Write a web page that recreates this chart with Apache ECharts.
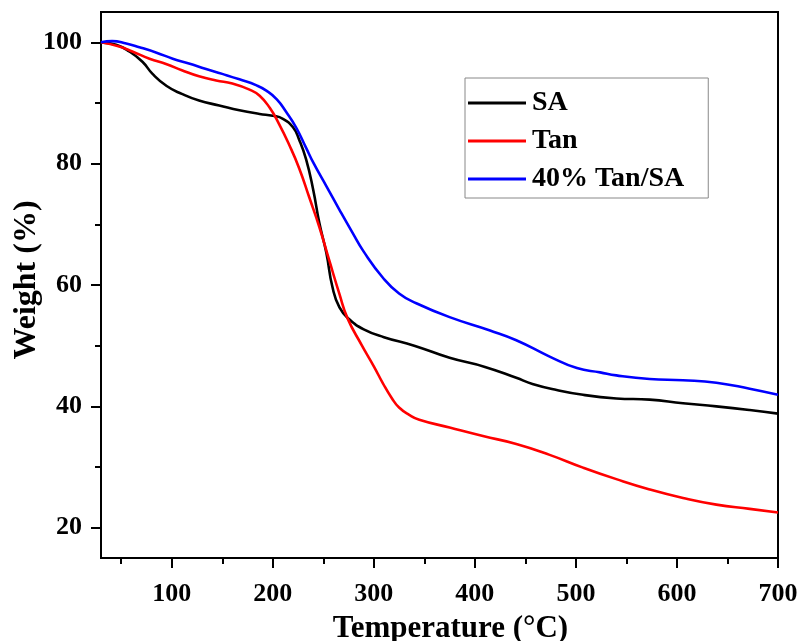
<!DOCTYPE html>
<html>
<head>
<meta charset="utf-8">
<script src="https://cdn.jsdelivr.net/npm/echarts@6/dist/echarts.min.js"></script>
<style>html,body{margin:0;padding:0;background:#fff;}#c{width:800px;height:641px;}</style>
</head>
<body>
<div id="c"></div>
<script>
var saTemp = [30,45,58,71,81,95,110,127,147,167,187,200,210,220,226,233,240,246,253,259,266,276,290,310,340,375,410,441,457,481,507,540,573,606,639,672,700];
var saWeight = [100,99.6,98.5,96.8,94.8,92.8,91.5,90.4,89.6,88.8,88.2,87.9,87.4,86,84,80.7,75.7,70.3,65.3,59.7,56.3,54.3,52.7,51.4,50,48,46.5,44.7,43.7,42.7,41.9,41.3,41.1,40.5,40,39.4,38.8];

var tanTemp = [30,48,61,78,95,110,127,144,160,177,187,197,206,216,226,236,246,256,266,274,288,300,309,318,325,335,345,375,408,441,474,507,540,573,606,639,672,700];
var tanWeight = [100,99.3,98.5,97.3,96.4,95.4,94.4,93.7,93.2,92.2,91.2,89.2,86.6,83.2,79.3,74.5,69.6,64,58.5,54.5,50.1,46.6,43.8,41.3,39.8,38.6,37.8,36.5,35.1,33.8,32,29.9,28,26.3,24.9,23.8,23.1,22.5];

var mixTemp = [30,41,55,68,85,101,117,134,150,167,184,194,204,213,223,233,240,253,266,279,290,309,325,342,375,415,441,474,501,524,540,573,606,639,672,700];
var mixWeight = [100,100.2,99.8,99.2,98.3,97.3,96.5,95.6,94.8,93.9,92.9,92,90.6,88.6,86,82.6,80.2,76.3,72.4,68.6,65.5,61.2,58.6,57,54.7,52.5,50.9,48.2,46.3,45.6,45.1,44.5,44.3,43.9,42.9,41.9];

var seriesNames = ['SA','Tan','40% Tan/SA'];
var seriesColors = ['#000000','#ff0000','#0000ff'];
var xMajor = [100,200,300,400,500,600,700];
var xMinor = [50,150,250,350,450,550,650];
var yMajor = [20,40,60,80,100];
var yMinor = [30,50,70,90];

function pairs(t, w){ return t.map(function(v,i){ return [v, w[i]]; }); }

var FONT = '"Liberation Serif","Times New Roman",serif';
var chart = echarts.init(document.getElementById('c'), null, {renderer:'canvas'});

var axisLineStyle = {color:'#000', width:2};
var option = {
  backgroundColor:'#ffffff',
  animation:false,
  grid:{left:101, right:22, top:12, bottom:83, outerBoundsMode:'none', containLabel:false, show:true, borderColor:'#000', borderWidth:2, backgroundColor:'transparent'},
  legend:{
    left:465, top:78, orient:'vertical',
    data:seriesNames,
    icon:'rect',
    itemWidth:58, itemHeight:3, itemGap:10,
    padding:[11,24,5,3],
    borderColor:'#888', borderWidth:1,
    textStyle:{fontFamily:FONT, fontWeight:'bold', fontSize:28, color:'#000', padding:[0,0,0,1]}
  },
  xAxis:[{
    type:'value', min:30, max:700,
    name:'Temperature (°C)', nameLocation:'middle', nameGap:55, nameMoveOverlap:false,
    nameTextStyle:{fontFamily:FONT, fontWeight:'bold', fontSize:31, color:'#000', padding:[0,0,0,22]},
    axisLine:{show:true, onZero:false, lineStyle:axisLineStyle},
    axisTick:{show:true, inside:false, length:10, lineStyle:{color:'#000', width:2}, customValues:xMajor},
    axisLabel:{fontFamily:FONT, fontWeight:'bold', fontSize:26, color:'#000', margin:23, customValues:xMajor},
    splitLine:{show:false}
  },{
    type:'value', min:30, max:700, position:'bottom',
    axisLine:{show:false},
    axisTick:{show:true, inside:false, length:6, lineStyle:{color:'#000', width:2}, customValues:xMinor},
    axisLabel:{show:false},
    splitLine:{show:false}
  }],
  yAxis:[{
    type:'value', min:15, max:105,
    name:'Weight (%)', nameLocation:'middle', nameGap:58, nameMoveOverlap:false,
    nameTextStyle:{fontFamily:FONT, fontWeight:'bold', fontSize:32, color:'#000', padding:[0,0,0,10]},
    axisLine:{show:true, onZero:false, lineStyle:axisLineStyle},
    axisTick:{show:true, inside:false, length:10, lineStyle:{color:'#000', width:2}, customValues:yMajor},
    axisLabel:{fontFamily:FONT, fontWeight:'bold', fontSize:26, color:'#000', margin:19, customValues:yMajor},
    splitLine:{show:false}
  },{
    type:'value', min:15, max:105, position:'left', offset:0,
    axisLine:{show:false},
    axisTick:{show:true, inside:false, length:6, lineStyle:{color:'#000', width:2}, customValues:yMinor},
    axisLabel:{show:false},
    splitLine:{show:false}
  }],
  series:[
    {name:seriesNames[0], type:'line', data:pairs(saTemp, saWeight), smooth:0.5, symbol:'none', lineStyle:{width:2.6, color:seriesColors[0]}, itemStyle:{color:seriesColors[0]}},
    {name:seriesNames[1], type:'line', data:pairs(tanTemp, tanWeight), smooth:0.5, symbol:'none', lineStyle:{width:2.6, color:seriesColors[1]}, itemStyle:{color:seriesColors[1]}},
    {name:seriesNames[2], type:'line', data:pairs(mixTemp, mixWeight), smooth:0.5, symbol:'none', lineStyle:{width:2.6, color:seriesColors[2]}, itemStyle:{color:seriesColors[2]}}
  ]
};
chart.setOption(option);
</script>
</body>
</html>
